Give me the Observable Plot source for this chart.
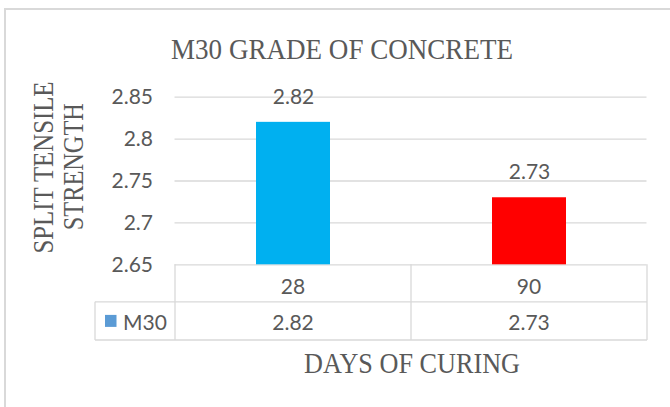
<!DOCTYPE html>
<html>
<head>
<meta charset="utf-8">
<script src="https://cdn.jsdelivr.net/npm/d3@7"></script>
<script src="https://cdn.jsdelivr.net/npm/@observablehq/plot@0.6"></script>
<style>
  html, body { margin: 0; padding: 0; background: white; }
  #chart svg { display: block; }
</style>
</head>
<body>
<div id="chart"></div>
<script>
// ---- data ----
const categories = ["28", "90"];
const values = [2.82, 2.73];
const barColors = ["#00B0F0", "#FF0000"];
const seriesName = "M30";
const seriesSwatch = "#5B9BD5";
const yTicks = [2.65, 2.7, 2.75, 2.8, 2.85];
const yTickLabels = ["2.65", "2.7", "2.75", "2.8", "2.85"];
const chartTitle = "M30 GRADE OF CONCRETE";
const xTitle = "DAYS OF CURING";
const yTitleLines = ["SPLIT TENSILE", "STRENGTH"];

const data = categories.map((c, i) => ({cat: c, value: values[i], color: barColors[i]}));

const grey = "#595959";
const lineGrey = "#D9D9D9";
const serif = "'Liberation Serif', 'DejaVu Serif', serif";
const sans = "Lato, sans-serif";
const fs = 21;

const chart = Plot.plot({
  width: 670,
  height: 407,
  marginLeft: 174.5,
  marginRight: 23.5,
  marginTop: 96.7,
  marginBottom: 142.7,
  style: {fontFamily: sans, fontSize: fs + "px", color: grey, background: "white", overflow: "visible"},
  x: {domain: categories, padding: 0, axis: null},
  y: {
    domain: [2.65, 2.85],
    ticks: yTicks,
    tickFormat: d => yTickLabels[yTicks.findIndex(t => Math.abs(t - d) < 1e-9)],
    tickSize: 0,
    tickPadding: 22,
    label: null
  },
  marks: [
    Plot.ruleY(yTicks, {stroke: lineGrey, strokeWidth: 1.3, strokeOpacity: 1}),
    Plot.barY(data, {x: "cat", y1: 2.65, y2: "value", fill: d => d.color, insetLeft: 81, insetRight: 81}),
    Plot.text(data, {x: "cat", y: "value", text: d => d.value.toFixed(2), dy: -25, fill: grey, fontSize: fs})
  ]
});

document.getElementById("chart").appendChild(chart);

// ---- decorations & data table, positioned via the plot's scales ----
const svg = d3.select(chart);
const xs = chart.scale("x");
const ys = chart.scale("y");
const bw = xs.bandwidth;
const x0 = xs.apply(categories[0]);
const xEnd = xs.apply(categories[categories.length - 1]) + bw;
const base = ys.apply(2.65);
const row1 = base + 37.5;
const row2 = base + 75.7;
const legendLeft = 95;

// outer chart border
svg.insert("rect", ":first-child")
  .attr("x", 5).attr("y", 9).attr("width", 720).attr("height", 500)
  .attr("fill", "white").attr("stroke", lineGrey).attr("stroke-width", 2);

const g = svg.append("g").attr("stroke", lineGrey).attr("stroke-width", 1.3);
g.append("line").attr("x1", legendLeft).attr("x2", xEnd).attr("y1", row1).attr("y2", row1);
g.append("line").attr("x1", legendLeft).attr("x2", xEnd).attr("y1", row2).attr("y2", row2);
g.append("line").attr("x1", legendLeft).attr("x2", legendLeft).attr("y1", row1).attr("y2", row2);
const edges = [x0, ...categories.map(c => xs.apply(c) + bw)];
edges.forEach(e => g.append("line").attr("x1", e).attr("x2", e).attr("y1", base).attr("y2", row2));

const t = svg.append("g").attr("fill", grey).attr("font-family", sans).attr("font-size", fs)
  .attr("text-anchor", "middle").attr("dominant-baseline", "central");
categories.forEach((c, i) => {
  const cx = xs.apply(c) + bw / 2;
  t.append("text").attr("x", cx).attr("y", (base + row1) / 2 + 2).text(c);
  t.append("text").attr("x", cx).attr("y", (row1 + row2) / 2 + 1).text(values[i].toFixed(2));
});
svg.append("rect").attr("x", 105).attr("y", (row1 + row2) / 2 - 6).attr("width", 11.5).attr("height", 12)
  .attr("fill", seriesSwatch);
svg.append("text").attr("x", 123).attr("y", (row1 + row2) / 2 + 1)
  .attr("fill", grey).attr("font-family", sans).attr("font-size", fs)
  .attr("text-anchor", "start").attr("dominant-baseline", "central").text(seriesName);

// titles
const titles = svg.append("g").attr("fill", grey).attr("font-family", serif).attr("font-size", 29)
  .attr("text-anchor", "middle");
titles.append("text").attr("x", 342).attr("y", 58.5)
  .attr("textLength", 342).attr("lengthAdjust", "spacingAndGlyphs").text(chartTitle);
titles.append("text").attr("x", (x0 + xEnd) / 2 + 1).attr("y", 373.3)
  .attr("textLength", 216).attr("lengthAdjust", "spacingAndGlyphs").text(xTitle);
titles.append("text").attr("transform", "translate(53,167.5) rotate(-90)")
  .attr("textLength", 172).attr("lengthAdjust", "spacingAndGlyphs").text(yTitleLines[0]);
titles.append("text").attr("transform", "translate(83,166.7) rotate(-90)")
  .attr("textLength", 127).attr("lengthAdjust", "spacingAndGlyphs").text(yTitleLines[1]);
</script>
</body>
</html>
